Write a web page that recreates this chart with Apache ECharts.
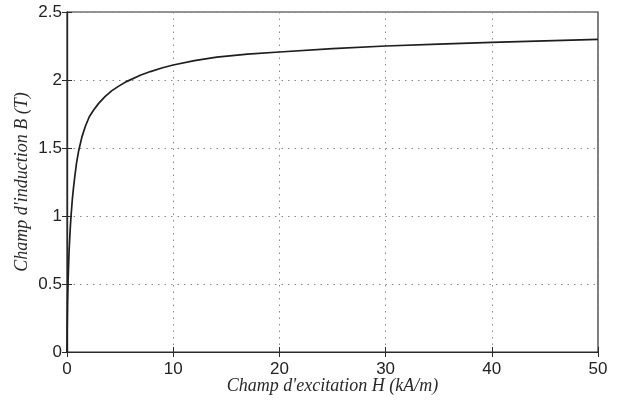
<!DOCTYPE html>
<html>
<head>
<meta charset="utf-8">
<script src="https://cdn.jsdelivr.net/npm/echarts@6/dist/echarts.min.js"></script>
<style>
  html, body { margin: 0; padding: 0; background: #fff; }
  #chart { width: 617px; height: 405px; }
</style>
</head>
<body>
<div id="chart"></div>
<script>
// Magnetisation curve B(H) of the core material
const fieldH = [0, 0.02, 0.05, 0.1, 0.2, 0.3, 0.38, 0.5, 0.6, 0.75, 0.9, 1.1, 1.4, 1.73, 2.1, 2.51, 3.0, 3.6, 4.2, 4.87, 5.65, 6.9, 7.85, 9, 10, 12, 14.1, 17, 20, 25, 30, 35, 40, 45, 50];
const inductionB = [0, 0.2, 0.36, 0.52, 0.75, 0.9, 1.0, 1.12, 1.2, 1.3, 1.39, 1.48, 1.58, 1.66, 1.73, 1.78, 1.83, 1.88, 1.92, 1.955, 1.99, 2.035, 2.062, 2.09, 2.11, 2.143, 2.168, 2.19, 2.206, 2.23, 2.25, 2.264, 2.277, 2.288, 2.299];
const xTicks = [0, 10, 20, 30, 40, 50];
const yTicks = [0, 0.5, 1, 1.5, 2, 2.5];

const axisColor = '#2a2a2a';
const labelFont = { color: '#222', fontFamily: 'Liberation Sans, Arial, sans-serif', fontSize: 17 };
const titleFont = { color: '#2a2a2a', fontFamily: 'Liberation Serif, Times New Roman, serif', fontStyle: 'italic', fontSize: 18 };
const gridDots = { show: true, lineStyle: { color: '#8a8a8a', type: [1.5, 5], width: 1 } };

const chart = echarts.init(document.getElementById('chart'), null, { renderer: 'canvas' });
chart.setOption({
  animation: false,
  backgroundColor: '#fff',
  grid: { left: 67, right: 19, top: 12, bottom: 53, show: true, borderColor: axisColor, borderWidth: 1.2, backgroundColor: 'transparent' },
  xAxis: [
    {
      type: 'value', min: xTicks[0], max: xTicks[xTicks.length - 1], interval: 10,
      name: "Champ d'excitation H (kA/m)", nameLocation: 'middle', nameGap: 25, nameMoveOverlap: false, nameTextStyle: titleFont,
      axisLine: { show: true, lineStyle: { color: axisColor, width: 1.2 } },
      axisTick: { show: true, inside: true, length: 5, lineStyle: { color: axisColor } },
      axisLabel: Object.assign({ margin: 9 }, labelFont),
      splitLine: gridDots
    },
    {
      type: 'value', position: 'top', min: xTicks[0], max: xTicks[xTicks.length - 1], interval: 10,
      axisLine: { show: true, lineStyle: { color: axisColor, width: 1.2 } },
      axisTick: { show: true, inside: true, length: 5, lineStyle: { color: axisColor } },
      axisLabel: { show: false }, splitLine: { show: false }
    }
  ],
  yAxis: [
    {
      type: 'value', min: yTicks[0], max: yTicks[yTicks.length - 1], interval: 0.5,
      name: "Champ d'induction B (T)", nameLocation: 'middle', nameGap: 36, nameMoveOverlap: false, nameTextStyle: titleFont,
      axisLine: { show: true, lineStyle: { color: axisColor, width: 1.2 } },
      axisTick: { show: true, inside: true, length: 5, lineStyle: { color: axisColor } },
      axisLabel: Object.assign({ margin: 5, formatter: v => String(v) }, labelFont),
      splitLine: gridDots
    },
    {
      type: 'value', position: 'right', min: yTicks[0], max: yTicks[yTicks.length - 1], interval: 0.5,
      axisLine: { show: true, lineStyle: { color: axisColor, width: 1.2 } },
      axisTick: { show: true, inside: true, length: 5, lineStyle: { color: axisColor } },
      axisLabel: { show: false }, splitLine: { show: false }
    }
  ],
  series: [{
    type: 'line',
    data: fieldH.map((h, i) => [h, inductionB[i]]),
    smooth: false,
    showSymbol: false,
    lineStyle: { color: '#1e1e1e', width: 1.7, join: 'round' }
  }]
});
</script>
</body>
</html>
